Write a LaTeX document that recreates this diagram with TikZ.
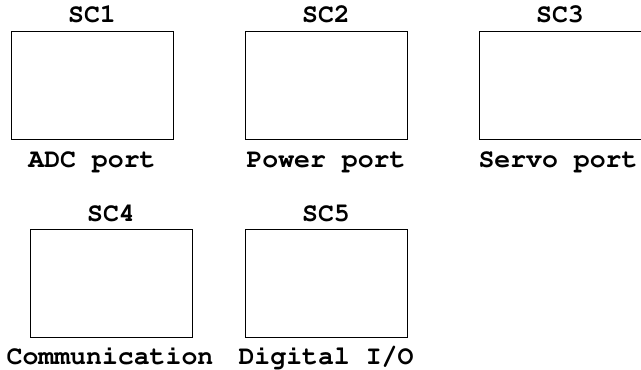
\documentclass[tikz,border=0pt]{standalone}
\usepackage[T1]{fontenc}
\usepackage{courier}
\begin{document}
\begin{tikzpicture}[x=1pt,y=-1pt,
  portbox/.style={draw=black, line width=0.8pt, minimum width=162pt, minimum height=108pt, inner sep=0pt},
  lbl/.style={font=\ttfamily\bfseries\fontsize{26.5}{30}\selectfont, anchor=base, inner sep=0pt}]
\useasboundingbox (0,0) rectangle (641,370);
\node[portbox] (b1) at (92,85) {};
\node[portbox] (b2) at (326,85) {};
\node[portbox] (b3) at (560,85) {};
\node[portbox] (b4) at (111,283) {};
\node[portbox] (b5) at (326,283) {};
\node[lbl] (t1) at (92,22) {SC1};
\node[lbl] (t2) at (326,22) {SC2};
\node[lbl] (t3) at (560,22) {SC3};
\node[lbl] (t4) at (111,221) {SC4};
\node[lbl] (t5) at (326,221) {SC5};
\node[lbl] (l1) at (92,167) {ADC port};
\node[lbl] (l2) at (326,167) {Power port};
\node[lbl] (l3) at (558,167) {Servo port};
\node[lbl] (l4) at (110,364) {Communication};
\node[lbl] (l5) at (326,364) {Digital I/O};
\end{tikzpicture}
\end{document}
